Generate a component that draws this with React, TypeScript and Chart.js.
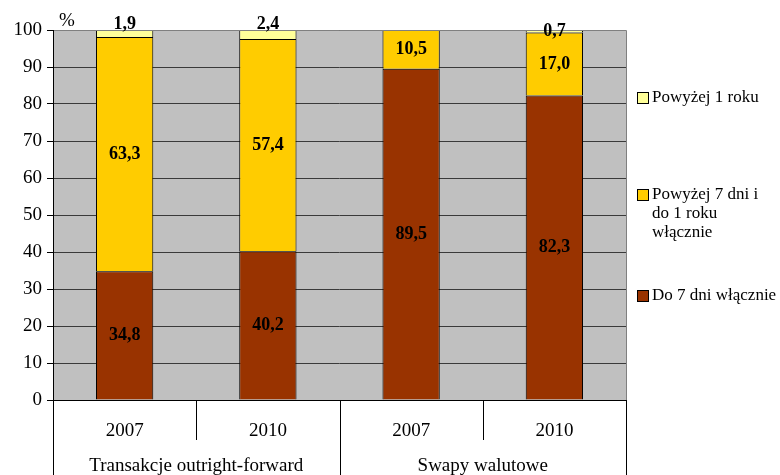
import React, { useEffect, useRef } from "react";
import { Chart, registerables } from "chart.js";

Chart.register(...registerables);

const years = ["2007", "2010", "2007", "2010"];
const groups = ["Transakcje outright-forward", "Swapy walutowe"];
const do7dni = [34.8, 40.2, 89.5, 82.3];
const powyzej7dni = [63.3, 57.4, 10.5, 17.0];
const powyzej1roku = [1.9, 2.4, 0, 0.7];
const seriesNames = ["Do 7 dni włącznie", "Powyżej 7 dni i do 1 roku włącznie", "Powyżej 1 roku"];
const legendLines = [["Do 7 dni włącznie"], ["Powyżej 7 dni i", "do 1 roku", "włącznie"], ["Powyżej 1 roku"]];
const yTicks = [0, 10, 20, 30, 40, 50, 60, 70, 80, 90, 100];

const SERIF = "'Liberation Serif', 'Times New Roman', serif";

const fmt = (v: number) => v.toFixed(1).replace(".", ",");

const customPlugin = {
  id: "custom",
  beforeDraw(chart: any) {
    const { ctx, chartArea } = chart;
    ctx.save();
    ctx.fillStyle = "#C0C0C0";
    ctx.fillRect(chartArea.left, chartArea.top, chartArea.right - chartArea.left, chartArea.bottom - chartArea.top);
    ctx.restore();
  },
  afterDraw(chart: any) {
    const { ctx, chartArea } = chart;
    const x = chart.scales.x;
    ctx.save();
    // plot border
    ctx.strokeStyle = "#808080";
    ctx.lineWidth = 1;
    ctx.beginPath();
    ctx.moveTo(chartArea.left, chartArea.top + 0.5);
    ctx.lineTo(chartArea.right + 0.5, chartArea.top + 0.5);
    ctx.lineTo(chartArea.right + 0.5, chartArea.bottom);
    ctx.stroke();
    ctx.strokeStyle = "#000";
    ctx.beginPath();
    ctx.moveTo(chartArea.left + 0.5, chartArea.top);
    ctx.lineTo(chartArea.left + 0.5, chartArea.bottom);
    ctx.moveTo(chartArea.left - 6, chartArea.bottom + 0.5);
    ctx.lineTo(chartArea.right + 1, chartArea.bottom + 0.5);
    ctx.stroke();

    // x axis separators
    const n = years.length;
    const step = (chartArea.right - chartArea.left) / n;
    ctx.beginPath();
    for (let i = 0; i <= n; i++) {
      const px = Math.round(x.getPixelForValue(i) - step / 2) + 0.5;
      const long = i % 2 === 0;
      ctx.moveTo(px, chartArea.bottom);
      ctx.lineTo(px, long ? chart.height : chartArea.bottom + 40);
    }
    ctx.stroke();

    // year labels
    ctx.fillStyle = "#000";
    ctx.font = `19px ${SERIF}`;
    ctx.textAlign = "center";
    ctx.textBaseline = "middle";
    years.forEach((y, i) => {
      ctx.fillText(y, x.getPixelForValue(i), chartArea.bottom + 31);
    });
    groups.forEach((g, gi) => {
      const cx = (x.getPixelForValue(gi * 2) + x.getPixelForValue(gi * 2 + 1)) / 2;
      ctx.fillText(g, cx, chartArea.bottom + 66);
    });

    // data labels
    ctx.font = `bold 18px ${SERIF}`;
    chart.data.datasets.forEach((ds: any, di: number) => {
      const meta = chart.getDatasetMeta(di);
      meta.data.forEach((bar: any, j: number) => {
        const v = ds.data[j];
        if (!v) return;
        const isTop = di === chart.data.datasets.length - 1;
        if (isTop && v >= 1) {
          ctx.textBaseline = "alphabetic";
          ctx.fillText(fmt(v), bar.x, bar.y - 1);
        } else {
          ctx.textBaseline = "middle";
          ctx.fillText(fmt(v), bar.x, (bar.y + bar.base) / 2 + (isTop ? 0 : 0));
        }
      });
    });

    // "%" label
    ctx.font = `19px ${SERIF}`;
    ctx.textBaseline = "alphabetic";
    ctx.textAlign = "center";
    ctx.fillText("%", chartArea.left + 14, chartArea.top - 4);

    // legend
    const order = [2, 1, 0];
    const tops = [98, 195, 296];
    ctx.font = `17px ${SERIF}`;
    ctx.textAlign = "left";
    ctx.textBaseline = "middle";
    order.forEach((di, k) => {
      const ds = chart.data.datasets[di];
      const cy = tops[k];
      ctx.fillStyle = ds.backgroundColor;
      ctx.fillRect(637.5, cy - 5.5, 11, 11);
      ctx.strokeStyle = "#000";
      ctx.strokeRect(637.5, cy - 5.5, 11, 11);
      ctx.fillStyle = "#000";
      legendLines[di].forEach((line, li) => {
        ctx.fillText(line, 652, cy + li * 19);
      });
    });
    ctx.restore();
  },
};

export default function App() {
  const ref = useRef<HTMLCanvasElement>(null);
  useEffect(() => {
    if (!ref.current) return;
    const chart = new Chart(ref.current, {
      type: "bar",
      data: {
        labels: years,
        datasets: [
          { label: seriesNames[0], data: do7dni, backgroundColor: "#993300", borderColor: "#000", borderWidth: 1 },
          { label: seriesNames[1], data: powyzej7dni, backgroundColor: "#FFCC00", borderColor: "#000", borderWidth: 1 },
          { label: seriesNames[2], data: powyzej1roku, backgroundColor: "#FFFF99", borderColor: "#000", borderWidth: 1 },
        ],
      },
      options: {
        animation: false,
        responsive: true,
        maintainAspectRatio: false,
        layout: { padding: { left: 0, top: 30, right: 154, bottom: 0 } },
        plugins: { legend: { display: false }, tooltip: { enabled: false } },
        datasets: { bar: { categoryPercentage: 1, barPercentage: 0.4 } },
        scales: {
          x: {
            stacked: true,
            ticks: { display: false },
            grid: { display: false },
            border: { display: false },
            afterFit: (s: any) => { s.height = 75; },
          },
          y: {
            stacked: true,
            min: 0,
            max: 100,
            afterBuildTicks: (s: any) => { s.ticks = yTicks.map((v) => ({ value: v })); },
            ticks: { color: "#000", font: { family: SERIF, size: 19 }, padding: 5 },
            grid: { color: "#3a3a3a", tickLength: 6, tickColor: "#000" },
            border: { display: false },
            afterFit: (s: any) => { s.width = 53; },
          },
        },
      },
      plugins: [customPlugin],
    });
    return () => chart.destroy();
  }, []);
  return (
    <div style={{ position: "absolute", left: 0, top: 0, width: 780, height: 475, background: "#fff" }}>
      <canvas ref={ref} />
    </div>
  );
}
